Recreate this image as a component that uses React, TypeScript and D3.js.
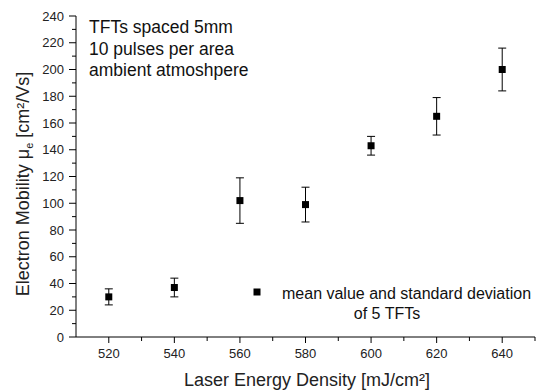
import * as d3 from 'd3'

const energies = [520, 540, 560, 580, 600, 620, 640]
const mobility = [30, 37, 102, 99, 143, 165, 200]
const stdDev = [6, 7, 17, 13, 7, 14, 16]

const xTicks = [520, 540, 560, 580, 600, 620, 640]
const xMinor = [510, 530, 550, 570, 590, 610, 630, 650]
const yTicks = [0, 20, 40, 60, 80, 100, 120, 140, 160, 180, 200, 220, 240]
const yMinor = [10, 30, 50, 70, 90, 110, 130, 150, 170, 190, 210, 230]

const notes = ['TFTs spaced 5mm', '10 pulses per area', 'ambient atmoshpere']

const W = 536
const H = 390
const font = 'Liberation Sans, Arial, sans-serif'

export default function App() {
  const x = d3.scaleLinear().domain([510, 650]).range([76, 535])
  const y = d3.scaleLinear().domain([0, 240]).range([337, 16])
  const [x0] = x.range()
  const [y0, y1] = y.range()
  const mk = 7
  const cap = 4

  return (
    <svg width={W} height={H} style={{ position: 'absolute', left: 0, top: 0, background: '#fff' }}
      fontFamily={font}>
      {/* axes */}
      <line x1={x0} x2={x0} y1={y1} y2={y0} stroke="#000" strokeWidth={1} />
      <line x1={x0} x2={x.range()[1]} y1={y0} y2={y0} stroke="#000" strokeWidth={1} />
      {yTicks.map(t => (
        <g key={'y' + t}>
          <line x1={x0 - 7} x2={x0} y1={y(t)} y2={y(t)} stroke="#000" />
          <text x={x0 - 12} y={y(t)} dy="0.35em" textAnchor="end" fontSize={13} fill="#222">{t}</text>
        </g>
      ))}
      {yMinor.map(t => (
        <line key={'ym' + t} x1={x0 - 4} x2={x0} y1={y(t)} y2={y(t)} stroke="#000" />
      ))}
      {xTicks.map(t => (
        <g key={'x' + t}>
          <line x1={x(t)} x2={x(t)} y1={y0} y2={y0 + 6} stroke="#000" />
          <text x={x(t)} y={y0 + 21} textAnchor="middle" fontSize={13} fill="#222">{t}</text>
        </g>
      ))}
      {xMinor.filter(t => t > 510).map(t => (
        <line key={'xm' + t} x1={x(t)} x2={x(t)} y1={y0} y2={y0 + 4} stroke="#000" />
      ))}

      {/* axis titles */}
      <text x={307} y={386} textAnchor="middle" fontSize={18} fill="#222">
        Laser Energy Density [mJ/cm²]
      </text>
      <text transform="translate(29,184) rotate(-90)" textAnchor="middle" fontSize={18} fill="#222">
        Electron Mobility μ<tspan fontSize={11} dy={4}>e</tspan><tspan dy={-4}> [cm²/Vs]</tspan>
      </text>

      {/* error bars + markers */}
      {energies.map((e, i) => {
        const cx = x(e)
        const lo = y(mobility[i] - stdDev[i])
        const hi = y(mobility[i] + stdDev[i])
        return (
          <g key={'p' + e}>
            <line x1={cx} x2={cx} y1={hi} y2={lo} stroke="#000" />
            <line x1={cx - cap} x2={cx + cap} y1={hi} y2={hi} stroke="#000" />
            <line x1={cx - cap} x2={cx + cap} y1={lo} y2={lo} stroke="#000" />
            <rect x={cx - mk / 2} y={y(mobility[i]) - mk / 2} width={mk} height={mk} fill="#000" />
          </g>
        )
      })}

      {/* annotation */}
      {notes.map((n, i) => (
        <text key={n} x={89} y={33 + i * 21.7} fontSize={17.5} fill="#111">{n}</text>
      ))}

      {/* legend */}
      <rect x={257 - mk / 2} y={292 - mk / 2} width={mk} height={mk} fill="#000" />
      <text x={282} y={299} fontSize={16} fill="#111">mean value and standard deviation</text>
      <text x={387} y={319} textAnchor="middle" fontSize={16} fill="#111">of 5 TFTs</text>
    </svg>
  )
}
